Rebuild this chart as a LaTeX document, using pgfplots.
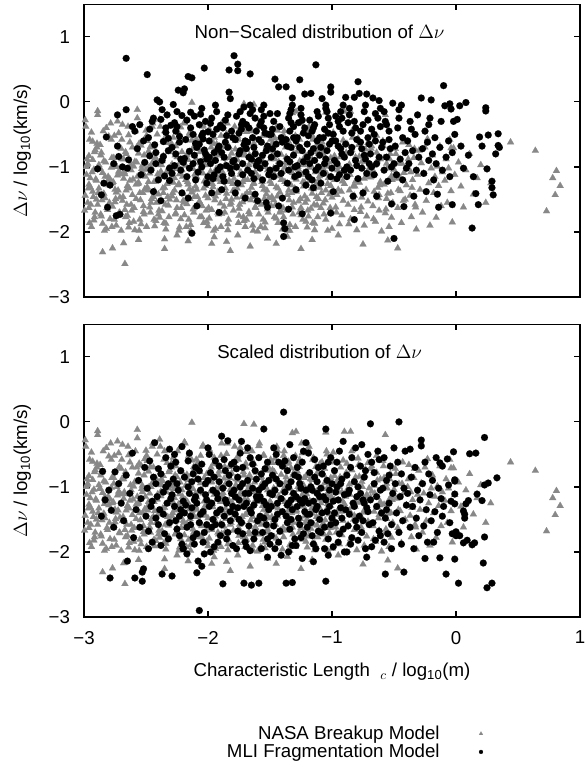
\documentclass[border=0pt]{standalone}
\usepackage{fontspec}
\setmainfont{Liberation Sans}
\usepackage{pgfplots}
\usepackage{pgfplotstable}
\pgfplotsset{compat=1.18}
\definecolor{nasagray}{RGB}{136,136,136}

\pgfplotstableread{
x y
-2.99 -0.28
-2.98 -1.12
-2.97 -1.55
-2.96 -0.83
-2.95 -1.31
-2.94 -1.92
-2.93 -0.61
-2.92 -1.04
-2.91 -1.70
-2.90 -1.21
-2.99 -1.44
-2.97 -0.95
-2.96 -1.63
-2.94 -0.47
-2.93 -1.38
-2.92 -1.82
-2.91 -0.74
-2.95 -1.17
-2.98 -1.00
-2.90 -1.50
-2.96 -1.27
-2.93 -0.89
-2.89 -0.14
-2.89 -0.20
-2.88 -1.33
-2.87 -0.66
-2.86 -1.76
-2.85 -1.09
-2.84 -0.91
-2.83 -1.48
-2.82 -1.95
-2.81 -1.22
-2.80 -0.53
-2.89 -1.58
-2.87 -1.02
-2.86 -0.78
-2.84 -1.41
-2.83 -1.15
-2.82 -0.40
-2.81 -1.66
-2.85 -1.87
-2.88 -0.97
-2.80 -1.28
-2.85 -2.31
-2.79 -1.19
-2.78 -0.58
-2.77 -1.61
-2.76 -0.86
-2.75 -1.35
-2.74 -1.90
-2.73 -0.30
-2.72 -1.07
-2.71 -1.47
-2.70 -0.72
-2.79 -1.80
-2.77 -1.25
-2.76 -0.95
-2.75 -1.54
-2.73 -1.13
-2.72 -0.48
-2.71 -1.71
-2.78 -1.01
-2.74 -1.39
-2.70 -1.98
-2.77 -2.25
-2.67 -2.49
-2.69 -0.35
-2.68 -1.18
-2.67 -1.66
-2.66 -0.80
-2.65 -1.29
-2.64 -1.93
-2.63 -0.62
-2.62 -1.05
-2.61 -1.43
-2.60 -0.99
-2.69 -1.52
-2.68 -0.88
-2.66 -1.36
-2.65 -1.75
-2.64 -0.51
-2.63 -1.21
-2.62 -1.58
-2.61 -0.70
-2.67 -1.11
-2.60 -1.84
-2.68 -2.17
-2.57 -0.12
-2.59 -0.92
-2.58 -1.49
-2.57 -0.25
-2.56 -1.24
-2.55 -1.81
-2.54 -0.67
-2.53 -1.08
-2.52 -1.60
-2.51 -1.34
-2.50 -0.44
-2.59 -1.97
-2.57 -1.15
-2.56 -0.79
-2.55 -1.40
-2.53 -0.98
-2.52 -1.69
-2.51 -0.57
-2.58 -1.27
-2.54 -1.88
-2.50 -1.04
-2.56 -2.12
-2.49 -1.31
-2.48 -0.76
-2.47 -1.62
-2.46 -1.00
-2.45 -0.38
-2.44 -1.46
-2.43 -1.91
-2.42 -0.87
-2.41 -1.19
-2.40 -1.73
-2.49 -0.60
-2.47 -1.10
-2.46 -1.55
-2.45 -0.94
-2.43 -1.37
-2.42 -1.83
-2.41 -0.50
-2.48 -1.23
-2.44 -0.70
-2.40 -1.42
-2.39 -0.27
-2.38 -1.14
-2.37 -1.68
-2.36 -0.83
-2.35 -1.32
-2.34 -1.96
-2.33 -0.63
-2.32 -1.02
-2.31 -1.50
-2.30 -1.21
-2.39 -1.78
-2.37 -0.91
-2.36 -1.40
-2.35 -0.45
-2.33 -1.26
-2.32 -1.59
-2.31 -0.74
-2.38 -1.07
-2.34 -1.87
-2.30 -0.99
-2.35 -2.11
-2.35 -2.26
-2.29 -1.45
-2.28 -0.55
-2.27 -1.17
-2.26 -1.71
-2.25 -0.85
-2.24 -1.28
-2.23 -1.93
-2.22 -0.39
-2.21 -1.05
-2.20 -1.52
-2.29 -0.96
-2.27 -1.36
-2.26 -0.68
-2.25 -1.63
-2.23 -1.11
-2.22 -1.80
-2.21 -0.77
-2.28 -1.24
-2.24 -1.00
-2.20 -1.41
-2.25 -2.05
-2.19 -0.31
-2.18 -1.20
-2.17 -1.57
-2.16 -0.89
-2.15 -1.34
-2.14 -1.89
-2.13 -0.59
-2.12 -1.03
-2.11 -1.46
-2.10 -1.13
-2.19 -1.74
-2.17 -0.81
-2.16 -1.27
-2.15 -0.48
-2.13 -1.39
-2.12 -1.65
-2.11 -0.72
-2.18 -0.98
-2.14 -1.98
-2.10 -1.30
-2.16 -2.14
-2.13 -0.01
-2.09 -1.16
-2.08 -0.62
-2.07 -1.53
-2.06 -0.94
-2.05 -1.77
-2.04 -0.36
-2.03 -1.22
-2.02 -1.44
-2.01 -0.80
-2.00 -1.91
-2.09 -1.35
-2.07 -1.06
-2.06 -0.52
-2.05 -1.60
-2.03 -0.86
-2.02 -1.29
-2.01 -1.84
-2.08 -0.71
-2.04 -1.10
-2.00 -1.48
-1.97 -2.18
-1.99 -0.42
-1.98 -1.25
-1.97 -1.66
-1.96 -0.84
-1.95 -1.12
-1.94 -1.95
-1.93 -0.65
-1.92 -1.38
-1.91 -1.01
-1.90 -1.56
-1.99 -1.79
-1.97 -0.92
-1.96 -1.31
-1.95 -0.55
-1.93 -1.19
-1.92 -1.70
-1.91 -0.76
-1.98 -1.07
-1.94 -1.45
-1.90 -1.23
-1.95 -2.08
-1.89 -0.33
-1.88 -1.14
-1.87 -1.61
-1.86 -0.96
-1.85 -1.41
-1.84 -1.88
-1.83 -0.69
-1.82 -1.04
-1.81 -1.50
-1.80 -1.26
-1.89 -1.72
-1.87 -0.87
-1.86 -1.33
-1.85 -0.49
-1.83 -1.21
-1.82 -1.58
-1.81 -0.79
-1.88 -1.09
-1.84 -1.97
-1.80 -1.37
-1.85 -2.15
-1.82 -2.29
-1.79 -1.18
-1.78 -0.60
-1.77 -1.47
-1.76 -0.90
-1.75 -1.75
-1.74 -0.40
-1.73 -1.28
-1.72 -1.54
-1.71 -0.82
-1.70 -1.92
-1.79 -1.36
-1.77 -1.02
-1.76 -0.53
-1.75 -1.64
-1.73 -0.95
-1.72 -1.23
-1.71 -1.83
-1.78 -0.73
-1.74 -1.12
-1.70 -1.43
-1.76 -2.05
-1.71 -0.03
-1.63 -0.04
-1.69 -0.46
-1.68 -1.20
-1.67 -1.69
-1.66 -0.86
-1.65 -1.32
-1.64 -1.90
-1.63 -0.64
-1.62 -1.08
-1.61 -1.52
-1.60 -1.15
-1.69 -1.81
-1.67 -0.97
-1.66 -1.40
-1.65 -0.57
-1.63 -1.25
-1.62 -1.62
-1.61 -0.78
-1.68 -1.04
-1.64 -1.46
-1.60 -1.99
-1.66 -2.22
-1.59 -0.37
-1.58 -1.17
-1.57 -1.58
-1.56 -0.93
-1.55 -1.35
-1.54 -1.85
-1.53 -0.68
-1.52 -1.05
-1.51 -1.48
-1.50 -1.22
-1.59 -1.73
-1.57 -0.84
-1.56 -1.29
-1.55 -0.51
-1.53 -1.42
-1.52 -1.65
-1.51 -0.75
-1.58 -1.00
-1.54 -1.94
-1.50 -1.10
-1.52 -2.10
-1.49 -1.26
-1.48 -0.63
-1.47 -1.51
-1.46 -0.88
-1.45 -1.79
-1.44 -0.44
-1.43 -1.14
-1.42 -1.39
-1.41 -0.81
-1.40 -1.96
-1.49 -1.60
-1.47 -1.02
-1.46 -0.56
-1.45 -1.31
-1.43 -0.92
-1.42 -1.70
-1.41 -1.20
-1.48 -0.74
-1.44 -1.45
-1.40 -1.07
-1.45 -2.18
-1.39 -0.52
-1.38 -1.23
-1.37 -1.67
-1.36 -0.95
-1.35 -1.36
-1.34 -1.89
-1.33 -0.71
-1.32 -1.09
-1.31 -1.55
-1.30 -1.16
-1.39 -1.77
-1.37 -0.85
-1.36 -1.43
-1.35 -0.61
-1.33 -1.28
-1.32 -1.62
-1.31 -0.79
-1.38 -1.01
-1.34 -1.98
-1.30 -1.33
-1.36 -2.07
-1.32 -0.17
-1.29 -0.15
-1.29 -1.19
-1.28 -0.66
-1.27 -1.53
-1.26 -0.91
-1.25 -1.74
-1.24 -0.48
-1.23 -1.30
-1.22 -1.45
-1.21 -0.83
-1.20 -1.93
-1.29 -1.38
-1.27 -1.04
-1.26 -0.58
-1.25 -1.63
-1.23 -0.97
-1.22 -1.24
-1.21 -1.84
-1.28 -0.76
-1.24 -1.12
-1.20 -1.50
-1.25 -2.26
-1.19 -0.43
-1.18 -1.21
-1.17 -1.64
-1.16 -0.89
-1.15 -1.34
-1.14 -1.87
-1.13 -0.69
-1.12 -1.06
-1.11 -1.49
-1.10 -1.14
-1.19 -1.76
-1.17 -0.98
-1.16 -1.41
-1.15 -0.55
-1.13 -1.27
-1.12 -1.59
-1.11 -0.80
-1.18 -1.01
-1.14 -1.97
-1.10 -1.32
-1.16 -2.12
-1.05 -0.16
-1.09 -1.25
-1.08 -0.62
-1.07 -1.56
-1.06 -0.94
-1.05 -1.81
-1.04 -0.50
-1.03 -1.17
-1.02 -1.42
-1.01 -0.86
-1.00 -1.95
-1.09 -1.63
-1.07 -1.03
-1.06 -0.72
-1.05 -1.36
-1.03 -0.99
-1.02 -1.71
-1.01 -1.29
-1.08 -0.78
-1.04 -1.11
-1.00 -1.47
-0.99 -0.47
-0.98 -1.20
-0.97 -1.62
-0.96 -0.91
-0.95 -1.35
-0.94 -1.88
-0.93 -0.70
-0.92 -1.08
-0.91 -1.52
-0.90 -1.26
-0.98 -0.83
-0.96 -1.43
-0.94 -1.00
-0.92 -1.74
-0.91 -0.59
-0.95 -2.05
-0.90 -0.15
-0.85 -0.15
-0.89 -1.15
-0.88 -0.64
-0.87 -1.58
-0.86 -0.96
-0.85 -1.80
-0.84 -0.45
-0.83 -1.30
-0.82 -1.44
-0.81 -0.85
-0.80 -1.97
-0.88 -1.05
-0.86 -1.36
-0.84 -0.74
-0.82 -1.66
-0.81 -1.22
-0.79 -0.56
-0.78 -1.24
-0.77 -1.69
-0.76 -0.92
-0.75 -1.39
-0.74 -1.90
-0.73 -0.73
-0.72 -1.12
-0.71 -1.53
-0.70 -1.02
-0.78 -0.84
-0.76 -1.47
-0.74 -1.18
-0.72 -1.76
-0.71 -0.63
-0.75 -2.19
-0.69 -1.16
-0.68 -0.68
-0.67 -1.60
-0.66 -0.98
-0.65 -1.84
-0.64 -0.52
-0.63 -1.32
-0.62 -1.43
-0.61 -0.88
-0.60 -1.99
-0.68 -1.07
-0.66 -1.38
-0.64 -0.78
-0.62 -1.67
-0.61 -1.23
-0.59 -0.60
-0.58 -1.27
-0.57 -1.71
-0.57 -0.20
-0.56 -0.95
-0.55 -1.41
-0.54 -1.92
-0.53 -0.80
-0.52 -1.14
-0.51 -1.55
-0.50 -1.04
-0.58 -0.86
-0.56 -1.49
-0.54 -1.20
-0.52 -1.78
-0.55 -2.13
-0.49 -0.72
-0.48 -1.18
-0.47 -1.63
-0.46 -0.95
-0.45 -1.37
-0.44 -1.86
-0.43 -0.62
-0.42 -1.09
-0.41 -1.50
-0.40 -1.28
-0.47 -2.25
-0.39 -1.00
-0.38 -0.66
-0.37 -1.44
-0.36 -1.77
-0.35 -1.20
-0.34 -0.86
-0.33 -1.58
-0.32 -1.96
-0.31 -1.12
-0.30 -0.75
-0.29 -1.35
-0.28 -0.94
-0.27 -1.70
-0.26 -1.10
-0.25 -0.70
-0.24 -1.52
-0.23 -0.57
-0.22 -1.25
-0.21 -1.90
-0.20 -1.02
-0.19 -0.82
-0.18 -1.40
-0.17 -1.15
-0.16 -1.78
-0.15 -0.99
-0.14 -1.29
-0.13 -0.68
-0.12 -1.60
-0.11 -1.08
-0.09 -1.21
-0.08 -0.88
-0.07 -1.55
-0.06 -1.02
-0.05 -0.58
-0.04 -1.37
-0.03 -1.85
-0.02 -0.71
-0.01 -1.12
-0.04 -0.71
0.02 -0.93
0.04 -1.30
0.06 -1.62
0.08 -1.05
0.11 -0.80
0.14 -1.42
0.17 -1.17
0.20 -0.97
0.24 -1.55
0.28 -1.25
0.44 -0.62
0.64 -0.75
0.81 -1.06
0.78 -1.17
0.84 -1.29
0.80 -1.43
0.73 -1.68
}\nasa

\pgfplotstableread{
x y
-2.985 -0.38
-2.955 -0.58
-2.915 -0.77
-2.975 -0.97
-2.935 -1.08
-2.905 -1.19
-2.965 -1.33
-2.925 -1.46
-2.945 -1.58
-2.995 -1.67
-2.915 -1.77
-2.955 -1.86
-2.975 -0.88
-2.845 -0.45
-2.895 -0.64
-2.865 -0.82
-2.825 -0.93
-2.875 -1.03
-2.805 -1.15
-2.835 -1.26
-2.885 -1.40
-2.855 -1.51
-2.815 -1.63
-2.865 -1.73
-2.835 -1.98
-2.895 -0.70
-2.785 -0.33
-2.755 -0.52
-2.715 -0.69
-2.775 -0.86
-2.735 -1.00
-2.705 -1.11
-2.765 -1.23
-2.725 -1.36
-2.745 -1.49
-2.795 -1.55
-2.715 -1.70
-2.755 -1.81
-2.775 -1.92
-2.645 -0.38
-2.695 -0.58
-2.665 -0.77
-2.625 -0.97
-2.675 -1.08
-2.605 -1.19
-2.635 -1.33
-2.685 -1.46
-2.655 -1.58
-2.615 -1.67
-2.665 -1.77
-2.635 -1.86
-2.695 -0.88
-2.585 -0.45
-2.555 -0.64
-2.515 -0.82
-2.575 -0.93
-2.535 -1.03
-2.505 -1.15
-2.565 -1.26
-2.525 -1.40
-2.545 -1.51
-2.595 -1.63
-2.515 -1.73
-2.555 -1.98
-2.575 -0.70
-2.445 -0.33
-2.495 -0.52
-2.465 -0.69
-2.425 -0.86
-2.475 -1.00
-2.405 -1.11
-2.435 -1.23
-2.485 -1.36
-2.455 -1.49
-2.415 -1.55
-2.465 -1.70
-2.435 -1.81
-2.495 -1.92
-2.385 -0.38
-2.355 -0.58
-2.315 -0.77
-2.375 -0.97
-2.335 -1.08
-2.305 -1.19
-2.365 -1.33
-2.325 -1.46
-2.345 -1.58
-2.395 -1.67
-2.315 -1.77
-2.355 -1.86
-2.375 -0.88
-2.245 -0.45
-2.295 -0.64
-2.265 -0.82
-2.225 -0.93
-2.275 -1.03
-2.205 -1.15
-2.235 -1.26
-2.285 -1.40
-2.255 -1.51
-2.215 -1.63
-2.265 -1.73
-2.235 -1.98
-2.295 -0.70
-2.185 -0.33
-2.155 -0.52
-2.115 -0.69
-2.175 -0.86
-2.135 -1.00
-2.105 -1.11
-2.165 -1.23
-2.125 -1.36
-2.145 -1.49
-2.195 -1.55
-2.115 -1.70
-2.155 -1.81
-2.175 -1.92
-2.045 -0.38
-2.095 -0.58
-2.065 -0.77
-2.025 -0.97
-2.075 -1.08
-2.005 -1.19
-2.035 -1.33
-2.085 -1.46
-2.055 -1.58
-2.015 -1.67
-2.065 -1.77
-2.035 -1.86
-2.095 -0.88
-1.985 -0.45
-1.955 -0.64
-1.915 -0.82
-1.975 -0.93
-1.935 -1.03
-1.905 -1.15
-1.965 -1.26
-1.925 -1.40
-1.945 -1.51
-1.995 -1.63
-1.915 -1.73
-1.955 -1.98
-1.975 -0.70
-1.845 -0.33
-1.895 -0.52
-1.865 -0.69
-1.825 -0.86
-1.875 -1.00
-1.805 -1.11
-1.835 -1.23
-1.885 -1.36
-1.855 -1.49
-1.815 -1.55
-1.865 -1.70
-1.835 -1.81
-1.895 -1.92
-1.785 -0.38
-1.755 -0.58
-1.715 -0.77
-1.775 -0.97
-1.735 -1.08
-1.705 -1.19
-1.765 -1.33
-1.725 -1.46
-1.745 -1.58
-1.795 -1.67
-1.715 -1.77
-1.755 -1.86
-1.775 -0.88
-1.645 -0.45
-1.695 -0.64
-1.665 -0.82
-1.625 -0.93
-1.675 -1.03
-1.605 -1.15
-1.635 -1.26
-1.685 -1.40
-1.655 -1.51
-1.615 -1.63
-1.665 -1.73
-1.635 -1.98
-1.695 -0.70
-1.585 -0.33
-1.555 -0.52
-1.515 -0.69
-1.575 -0.86
-1.535 -1.00
-1.505 -1.11
-1.565 -1.23
-1.525 -1.36
-1.545 -1.49
-1.595 -1.55
-1.515 -1.70
-1.555 -1.81
-1.575 -1.92
-1.445 -0.38
-1.495 -0.58
-1.465 -0.77
-1.425 -0.97
-1.475 -1.08
-1.405 -1.19
-1.435 -1.33
-1.485 -1.46
-1.455 -1.58
-1.415 -1.67
-1.465 -1.77
-1.435 -1.86
-1.495 -0.88
-1.385 -0.45
-1.355 -0.64
-1.315 -0.82
-1.375 -0.93
-1.335 -1.03
-1.305 -1.15
-1.365 -1.26
-1.325 -1.40
-1.345 -1.51
-1.395 -1.63
-1.315 -1.73
-1.355 -1.98
-1.375 -0.70
-1.245 -0.33
-1.295 -0.52
-1.265 -0.69
-1.225 -0.86
-1.275 -1.00
-1.205 -1.11
-1.235 -1.23
-1.285 -1.36
-1.255 -1.49
-1.215 -1.55
-1.265 -1.70
-1.235 -1.81
-1.295 -1.92
-1.185 -0.38
-1.155 -0.58
-1.115 -0.77
-1.175 -0.97
-1.135 -1.08
-1.105 -1.19
-1.165 -1.33
-1.125 -1.46
-1.145 -1.58
-1.195 -1.67
-1.115 -1.77
-1.155 -1.86
-1.175 -0.88
-1.045 -0.45
-1.095 -0.64
-1.065 -0.82
-1.025 -0.93
-1.075 -1.03
-1.005 -1.15
-1.035 -1.26
-1.085 -1.40
-1.055 -1.51
-1.015 -1.63
-1.065 -1.73
-1.035 -1.98
-1.095 -0.70
-0.985 -0.62
-0.955 -1.05
-0.925 -1.38
-0.965 -1.70
-0.935 -0.85
-0.915 -1.22
-0.885 -0.78
-0.855 -1.12
-0.825 -1.50
-0.865 -1.88
-0.835 -0.55
-0.815 -1.30
-0.785 -0.66
-0.755 -1.00
-0.725 -1.35
-0.765 -1.62
-0.735 -0.82
-0.715 -1.15
-0.685 -0.72
-0.655 -1.10
-0.625 -1.48
-0.665 -1.80
-0.635 -0.90
-0.615 -1.28
-0.585 -0.68
-0.555 -1.02
-0.525 -1.40
-0.565 -1.65
-0.535 -0.88
-0.515 -1.20
-0.485 -0.80
-0.455 -1.15
-0.425 -1.52
-0.465 -1.35
-0.435 -0.95
-0.385 -0.88
-0.355 -1.32
-0.325 -1.62
-0.365 -1.08
-0.335 -0.72
}\nasab

\pgfplotstableread{
x y
-2.82 -0.54
-2.73 -0.20
-2.66 -0.12
-2.89 -1.03
-2.84 -1.25
-2.86 -1.43
-2.81 -1.62
-2.74 -1.75
-2.71 -1.73
-2.79 -1.28
-2.73 -0.68
-2.72 -0.84
-2.76 -0.95
-2.69 -1.00
-2.65 -1.02
-2.64 -0.89
-2.61 -0.38
-2.59 -0.45
-2.66 0.67
-2.55 -0.35
-2.57 -0.72
-2.52 -0.60
-2.54 -1.12
-2.51 -0.93
-2.49 0.42
-2.48 -0.55
-2.47 -0.83
-2.46 -1.05
-2.45 -0.30
-2.44 -1.38
-2.43 -0.66
-2.42 -0.95
-2.41 0.03
-2.40 -1.20
-2.47 -0.42
-2.44 -0.25
-2.42 -0.78
-2.39 0.00
-2.38 -0.27
-2.37 -0.90
-2.36 -0.61
-2.35 -1.14
-2.34 -0.47
-2.33 -0.20
-2.32 -0.75
-2.31 -1.02
-2.30 -0.36
-2.38 -1.52
-2.36 -0.84
-2.34 -0.40
-2.32 -0.56
-2.31 -1.21
-2.37 -0.12
-2.29 -0.70
-2.28 -0.04
-2.27 -0.98
-2.26 -0.45
-2.25 -0.15
-2.24 0.18
-2.23 -0.62
-2.22 -0.88
-2.21 -1.40
-2.20 0.14
-2.29 -1.10
-2.27 -0.32
-2.26 -0.80
-2.25 -0.38
-2.23 -0.53
-2.22 -1.05
-2.21 -0.21
-2.20 -0.93
-2.19 0.20
-2.18 -0.58
-2.17 -1.15
-2.16 0.39
-2.15 -0.76
-2.14 -0.40
-2.13 0.37
-2.12 -0.95
-2.11 -0.22
-2.10 -0.64
-2.19 -0.87
-2.17 -0.28
-2.16 -1.48
-2.15 -1.02
-2.13 -2.02
-2.12 -0.50
-2.11 -0.82
-2.10 -1.20
-2.14 -0.16
-2.09 -0.70
-2.08 -1.08
-2.07 -0.35
-2.06 -0.92
-2.05 -0.10
-2.04 -0.57
-2.03 0.52
-2.02 -0.80
-2.01 -1.25
-2.00 -0.46
-2.09 -1.60
-2.07 -0.65
-2.06 -0.19
-2.05 -1.00
-2.04 -0.48
-2.03 -0.74
-2.02 -0.30
-2.01 -0.88
-2.00 -1.15
-2.05 -0.52
-1.99 -0.60
-1.98 -0.95
-1.97 -0.25
-1.96 -1.18
-1.95 -0.78
-1.94 -0.05
-1.93 -0.42
-1.92 -1.05
-1.91 -0.68
-1.90 -0.36
-1.99 -0.85
-1.97 -1.40
-1.96 -0.50
-1.95 -1.12
-1.93 -0.15
-1.92 -0.72
-1.91 -1.70
-1.98 -0.33
-1.94 -0.90
-1.90 -1.00
-1.89 -0.78
-1.88 -0.40
-1.87 -1.22
-1.86 -0.62
-1.85 -0.98
-1.84 -0.20
-1.83 0.49
-1.83 0.15
-1.82 0.05
-1.81 -1.10
-1.80 -0.55
-1.89 -1.35
-1.87 -0.85
-1.86 -0.28
-1.85 -0.52
-1.84 -0.70
-1.82 -1.02
-1.81 -0.45
-1.80 -0.92
-1.88 -1.15
-1.79 0.71
-1.78 -0.58
-1.77 -1.00
-1.76 0.58
-1.76 0.48
-1.75 -0.80
-1.74 -0.15
-1.73 -0.35
-1.72 -1.12
-1.71 -0.66
-1.70 -1.48
-1.79 -0.90
-1.77 -0.22
-1.76 -1.25
-1.75 -0.48
-1.74 -0.75
-1.73 -0.42
-1.72 -0.95
-1.71 -0.08
-1.70 -0.60
-1.78 -1.40
-1.72 -0.30
-1.69 -0.72
-1.68 -1.05
-1.67 -0.40
-1.66 0.43
-1.66 -0.18
-1.65 -0.88
-1.64 -0.55
-1.63 -1.18
-1.62 -0.25
-1.61 -0.98
-1.60 -1.52
-1.69 -0.35
-1.68 -0.62
-1.67 -0.85
-1.65 -1.10
-1.64 -0.12
-1.63 -0.70
-1.62 -1.42
-1.61 -0.45
-1.60 -0.92
-1.66 -0.05
-1.62 -0.80
-1.59 -0.58
-1.58 -1.02
-1.57 -0.30
-1.56 -0.82
-1.55 -0.22
-1.54 -0.48
-1.53 -1.55
-1.52 -0.68
-1.51 -1.12
-1.50 -0.18
-1.59 -0.90
-1.58 -0.36
-1.57 -0.62
-1.56 -1.20
-1.55 -0.40
-1.54 -0.95
-1.53 -0.75
-1.52 -1.62
-1.51 -0.50
-1.50 -1.05
-1.55 -0.05
-1.57 -0.12
-1.49 -0.85
-1.48 -0.42
-1.47 -1.15
-1.46 0.35
-1.45 -0.65
-1.44 -0.18
-1.43 0.23
-1.42 -0.95
-1.41 -0.55
-1.40 -1.48
-1.49 -0.50
-1.48 -0.72
-1.47 -0.30
-1.45 -1.02
-1.44 -0.80
-1.43 -1.60
-1.42 -0.38
-1.41 -1.10
-1.40 -0.62
-1.39 -1.86
-1.39 -2.07
-1.38 -1.95
-1.37 0.23
-1.36 -0.68
-1.35 -1.05
-1.34 -0.45
-1.33 -0.32
-1.32 0.06
-1.31 -0.82
-1.30 -1.15
-1.37 -0.58
-1.36 -1.25
-1.35 -0.25
-1.34 -0.92
-1.33 -0.70
-1.32 -0.05
-1.31 -0.38
-1.30 -1.00
-1.35 -1.65
-1.33 -0.12
-1.31 -0.55
-1.36 -0.88
-1.34 -0.18
-1.29 -0.60
-1.28 -0.98
-1.27 -0.32
-1.26 0.34
-1.25 -0.10
-1.24 -0.75
-1.23 -0.48
-1.22 0.12
-1.21 -1.08
-1.20 -0.85
-1.29 -1.35
-1.28 -0.55
-1.27 -1.12
-1.26 -0.70
-1.25 -0.20
-1.24 -0.28
-1.23 -0.92
-1.22 -0.40
-1.21 -1.28
-1.20 -0.65
-1.24 -1.72
-1.19 -0.52
-1.18 -0.95
-1.17 0.13
-1.16 -1.20
-1.15 -0.72
-1.14 -0.35
-1.13 0.57
-1.13 -1.05
-1.12 -0.60
-1.11 -0.22
-1.10 -0.82
-1.19 -1.15
-1.18 -0.28
-1.17 -0.78
-1.16 -0.45
-1.15 -1.32
-1.14 -0.90
-1.12 -0.15
-1.11 -1.00
-1.10 -0.55
-1.15 -0.40
-1.09 -0.70
-1.08 0.05
-1.07 -1.10
-1.06 -0.42
-1.05 -0.88
-1.04 -0.15
-1.03 -0.25
-1.02 -0.65
-1.01 0.15
-1.00 -1.02
-1.09 -1.25
-1.07 -0.55
-1.06 -0.95
-1.05 -0.10
-1.04 -0.75
-1.03 -0.48
-1.02 -0.35
-1.01 -1.15
-1.00 -0.60
-1.01 0.23
-1.01 -1.71
-1.05 -0.05
-0.99 -0.50
-0.98 -0.90
-0.97 -0.22
-0.96 -1.18
-0.95 -0.68
-0.94 -0.38
-0.93 -0.15
-0.92 -0.80
-0.91 -0.05
-0.90 -1.05
-0.99 -1.38
-0.97 -0.60
-0.96 -0.95
-0.95 -0.30
-0.94 -1.12
-0.93 -0.72
-0.92 -0.25
-0.91 -0.45
-0.90 -0.85
-0.89 0.07
-0.89 -0.65
-0.88 -1.00
-0.87 -0.32
-0.86 -0.10
-0.85 -0.78
-0.84 -0.48
-0.83 -1.45
-0.82 0.07
-0.81 -0.90
-0.80 -0.58
-0.88 -1.15
-0.86 -0.20
-0.85 -1.05
-0.84 -0.70
-0.82 -0.30
-0.81 -0.40
-0.80 -0.98
-0.82 -1.81
-0.79 0.31
-0.78 0.13
-0.77 -0.62
-0.76 -1.02
-0.75 -0.35
-0.74 -0.82
-0.73 -0.05
-0.72 0.12
-0.71 -0.55
-0.70 -0.95
-0.79 -1.18
-0.77 -0.45
-0.76 -0.72
-0.75 -1.40
-0.74 -0.15
-0.73 -0.88
-0.72 -1.10
-0.71 -0.28
-0.70 -0.65
-0.69 -0.80
-0.68 -0.42
-0.67 0.06
-0.66 -1.12
-0.65 -0.60
-0.64 -0.95
-0.63 -0.25
-0.62 0.02
-0.61 -0.10
-0.60 -0.70
-0.68 -1.00
-0.66 -0.50
-0.65 -0.18
-0.64 -1.45
-0.62 -0.85
-0.61 -0.38
-0.59 -0.62
-0.58 -1.05
-0.57 -0.30
-0.56 -0.85
-0.55 -1.22
-0.54 -0.45
-0.53 -0.72
-0.52 -1.57
-0.51 -0.02
-0.50 -0.95
-0.58 -0.15
-0.56 -0.35
-0.54 -0.58
-0.52 -1.00
-0.50 -2.10
-0.49 -0.68
-0.48 -1.12
-0.47 -0.40
-0.46 -0.12
-0.45 -0.88
-0.44 -0.05
-0.43 -0.55
-0.42 -1.61
-0.41 -0.78
-0.40 -1.02
-0.46 -0.25
-0.43 -1.20
-0.39 -0.60
-0.38 -0.95
-0.37 -0.30
-0.36 -0.42
-0.35 -0.75
-0.34 -1.45
-0.33 -0.50
-0.32 -1.05
-0.31 -0.20
-0.30 -0.85
-0.28 0.06
-0.27 -0.72
-0.26 -1.10
-0.25 -0.45
-0.24 -1.38
-0.23 -0.62
-0.22 -0.90
-0.21 -0.25
-0.20 0.03
-0.22 -0.35
-0.19 -0.80
-0.18 -1.20
-0.17 -0.55
-0.16 -0.95
-0.15 -1.42
-0.13 -0.70
-0.12 -0.30
-0.11 -1.05
-0.10 0.25
-0.14 -1.62
-0.09 -0.06
-0.08 -0.85
-0.06 -0.60
-0.05 -1.15
-0.04 -0.11
-0.03 -0.78
-0.02 -0.30
-0.01 -0.50
-0.05 -0.03
-0.03 -1.58
0.01 -0.27
0.03 -0.06
0.04 -0.68
0.06 -1.02
0.08 -0.01
0.10 -0.82
0.13 -1.94
0.14 -1.15
0.16 -1.41
0.18 -1.58
0.19 -0.54
0.21 -0.68
0.24 -0.09
0.24 -0.14
0.25 -1.03
0.26 -0.51
0.29 -1.22
0.29 -1.32
0.30 -1.43
0.32 -0.80
0.34 -0.49
0.34 -0.67
0.35 -0.70
}\mlitop

\pgfplotstableread{
x y
-2.85 -0.76
-2.75 -0.77
-2.83 -1.20
-2.78 -1.36
-2.86 -1.45
-2.79 -2.40
-2.80 -1.05
-2.76 -1.62
-2.72 -0.95
-2.70 -1.25
-2.68 -1.52
-2.65 -2.14
-2.66 -0.82
-2.63 -1.10
-2.61 -0.48
-2.60 -1.78
-2.59 -2.40
-2.58 -1.35
-2.56 -0.90
-2.55 -1.62
-2.53 -2.45
-2.53 -2.31
-2.52 -2.26
-2.54 -1.18
-2.51 -0.70
-2.50 -1.45
-2.49 -1.02
-2.48 -1.68
-2.47 -0.60
-2.46 -1.30
-2.45 -1.85
-2.44 -0.85
-2.43 -0.32
-2.42 -1.48
-2.41 -1.15
-2.40 -0.72
-2.48 -1.95
-2.45 -1.22
-2.42 -0.95
-2.40 -1.58
-2.39 -1.35
-2.38 -0.80
-2.37 -2.34
-2.36 -1.08
-2.35 -1.72
-2.34 -0.55
-2.33 -1.25
-2.32 -0.95
-2.31 -1.55
-2.30 -0.68
-2.38 -1.90
-2.36 -1.42
-2.34 -1.00
-2.32 -1.80
-2.31 -0.42
-2.30 -1.18
-2.29 -2.37
-2.28 -0.88
-2.27 -1.30
-2.26 -0.62
-2.25 -1.65
-2.24 -1.05
-2.23 -1.45
-2.22 -0.75
-2.21 -1.88
-2.20 -1.22
-2.29 -1.12
-2.27 -0.50
-2.26 -1.52
-2.25 -0.95
-2.23 -1.75
-2.22 -1.35
-2.21 -0.38
-2.20 -1.95
-2.19 -0.85
-2.18 -1.28
-2.17 -1.62
-2.16 -0.60
-2.15 -1.10
-2.14 -1.45
-2.13 -0.92
-2.12 -1.78
-2.11 -1.20
-2.10 -0.70
-2.20 -1.95
-2.17 -2.03
-2.19 -1.40
-2.16 -1.00
-2.15 -0.48
-2.14 -1.58
-2.13 -1.32
-2.12 -0.80
-2.11 -1.88
-2.10 -1.15
-2.09 -2.32
-2.08 -2.14
-2.07 -2.90
-2.05 -2.22
-2.03 -2.03
-2.09 -1.25
-2.08 -0.88
-2.07 -1.55
-2.06 -1.05
-2.05 -0.65
-2.04 -1.38
-2.03 -1.70
-2.02 -0.95
-2.01 -1.20
-2.00 -0.40
-2.09 -1.72
-2.07 -0.75
-2.06 -1.42
-2.04 -1.85
-2.02 -1.12
-2.01 -1.58
-2.00 -0.90
-1.99 -1.30
-1.98 -0.78
-1.97 -1.62
-1.96 -1.05
-1.95 -1.92
-1.94 -0.60
-1.93 -1.40
-1.92 -1.18
-1.91 -0.92
-1.90 -1.75
-1.99 -0.50
-1.97 -1.25
-1.96 -1.50
-1.95 -0.85
-1.93 -1.10
-1.92 -1.85
-1.91 -0.68
-1.90 -1.35
-1.98 -2.00
-1.94 -1.58
-1.89 -0.22
-1.88 -2.49
-1.88 -1.02
-1.87 -1.45
-1.86 -0.75
-1.85 -1.25
-1.84 -0.29
-1.84 -1.70
-1.83 -0.95
-1.82 -1.38
-1.81 -1.10
-1.80 -1.90
-1.89 -1.58
-1.87 -0.58
-1.86 -1.20
-1.85 -1.80
-1.83 -0.82
-1.82 -1.52
-1.81 -0.65
-1.80 -1.30
-1.79 -1.05
-1.78 -1.42
-1.77 -0.72
-1.76 -1.68
-1.75 -1.20
-1.74 -0.48
-1.73 -1.55
-1.72 -0.95
-1.71 -2.48
-1.71 -1.30
-1.70 -1.85
-1.79 -0.62
-1.78 -1.15
-1.77 -1.95
-1.76 -0.85
-1.75 -1.50
-1.74 -1.00
-1.73 -0.30
-1.72 -1.72
-1.70 -1.10
-1.76 -1.32
-1.72 -0.70
-1.69 -1.25
-1.68 -0.90
-1.67 -1.60
-1.66 -0.55
-1.65 -2.51
-1.65 -1.40
-1.64 -1.02
-1.63 -1.80
-1.62 -0.75
-1.61 -1.15
-1.60 -1.52
-1.69 -1.92
-1.68 -0.40
-1.67 -1.10
-1.66 -1.35
-1.64 -0.65
-1.63 -1.28
-1.62 -1.70
-1.61 -0.88
-1.60 -1.20
-1.59 -2.48
-1.66 -1.98
-1.59 -1.05
-1.58 -1.45
-1.57 -0.80
-1.56 -1.70
-1.55 -0.11
-1.55 -1.22
-1.54 -0.95
-1.53 -1.58
-1.52 -0.62
-1.51 -1.35
-1.50 -1.88
-1.59 -0.55
-1.58 -1.15
-1.57 -1.95
-1.56 -1.00
-1.55 -1.48
-1.54 -0.72
-1.53 -1.28
-1.52 -1.80
-1.51 -0.90
-1.50 -1.10
-1.52 -2.08
-1.49 -1.30
-1.48 -0.82
-1.47 -1.60
-1.46 -1.05
-1.45 -0.50
-1.44 -1.42
-1.43 -1.85
-1.42 -0.95
-1.41 -1.18
-1.40 -0.68
-1.49 -1.75
-1.48 -1.12
-1.47 -0.40
-1.46 -1.50
-1.45 -0.88
-1.44 -1.25
-1.43 -0.62
-1.42 -1.68
-1.41 -2.05
-1.40 -1.38
-1.39 0.15
-1.46 -1.95
-1.38 -1.08
-1.37 -2.48
-1.37 -1.45
-1.36 -0.75
-1.35 -1.25
-1.34 -1.65
-1.33 -0.92
-1.32 -2.47
-1.32 -1.35
-1.31 -0.55
-1.30 -1.80
-1.38 -0.60
-1.36 -1.55
-1.35 -1.00
-1.34 -0.35
-1.33 -1.20
-1.32 -1.90
-1.31 -1.10
-1.30 -0.82
-1.35 -2.00
-1.33 -1.50
-1.36 -1.28
-1.29 -1.15
-1.28 -0.70
-1.27 -1.48
-1.26 -0.95
-1.25 -1.78
-1.24 -1.25
-1.23 -0.45
-1.22 -1.38
-1.21 -1.05
-1.20 -1.62
-1.29 -1.90
-1.28 -1.30
-1.27 -0.85
-1.26 -1.58
-1.25 -1.02
-1.24 -0.62
-1.23 -1.72
-1.22 -1.18
-1.21 -0.32
-1.20 -1.42
-1.24 -2.10
-1.26 -1.20
-1.19 -1.25
-1.18 -0.78
-1.17 -1.55
-1.16 -1.05
-1.15 -1.88
-1.14 -0.58
-1.13 -1.35
-1.12 -0.92
-1.11 -1.68
-1.10 -1.15
-1.19 -0.48
-1.18 -1.42
-1.17 -1.00
-1.16 -1.75
-1.15 -1.22
-1.14 -0.85
-1.13 -1.95
-1.12 -1.30
-1.11 -0.70
-1.10 -1.50
-1.15 -2.15
-1.12 -1.10
-1.09 -1.02
-1.08 -1.40
-1.07 -0.68
-1.06 -1.62
-1.05 -0.11
-1.05 -2.45
-1.05 -1.20
-1.04 -0.90
-1.03 -1.80
-1.02 -1.30
-1.01 -0.55
-1.00 -1.48
-1.09 -1.70
-1.08 -0.80
-1.07 -1.15
-1.06 -1.95
-1.04 -1.38
-1.03 -0.62
-1.02 -1.05
-1.01 -1.58
-1.00 -0.95
-1.03 -2.05
-0.99 -1.22
-0.98 -0.75
-0.97 -1.55
-0.96 -1.00
-0.95 -1.85
-0.94 -0.45
-0.93 -1.32
-0.92 -0.88
-0.91 -1.65
-0.90 -1.12
-0.99 -1.92
-0.98 -1.40
-0.96 -0.62
-0.95 -1.20
-0.94 -1.72
-0.93 -0.95
-0.92 -1.48
-0.91 -0.30
-0.90 -2.00
-0.97 -1.08
-0.89 -1.35
-0.88 -0.82
-0.87 -1.60
-0.86 -1.05
-0.85 -1.88
-0.84 -0.55
-0.83 -1.25
-0.82 -0.92
-0.81 -1.52
-0.80 -1.15
-0.88 -2.00
-0.86 -1.42
-0.85 -0.70
-0.84 -1.78
-0.82 -1.30
-0.81 -0.40
-0.80 -1.62
-0.87 -1.10
-0.79 -1.00
-0.78 -1.45
-0.77 -0.68
-0.76 -1.70
-0.75 -1.20
-0.74 -0.85
-0.73 -1.95
-0.72 -1.32
-0.71 -0.50
-0.70 -1.58
-0.79 -1.82
-0.77 -1.10
-0.76 -0.35
-0.75 -1.52
-0.74 -1.25
-0.73 -0.75
-0.72 -2.08
-0.71 -1.38
-0.69 -0.03
-0.69 -1.20
-0.68 -0.62
-0.67 -1.55
-0.66 -0.95
-0.65 -1.82
-0.64 -1.30
-0.63 -0.45
-0.62 -1.68
-0.61 -1.05
-0.60 -1.40
-0.68 -1.92
-0.66 -0.78
-0.64 -1.15
-0.62 -0.58
-0.61 -1.75
-0.59 -1.02
-0.58 -0.55
-0.57 -1.48
-0.57 -2.34
-0.56 -0.90
-0.55 -1.72
-0.54 -1.25
-0.53 -0.68
-0.52 -1.58
-0.51 -1.10
-0.50 -0.40
-0.58 -1.85
-0.56 -1.35
-0.54 -0.82
-0.52 -1.95
-0.46 0.00
-0.49 -0.95
-0.48 -1.40
-0.47 -0.62
-0.46 -1.70
-0.45 -1.15
-0.44 -0.80
-0.43 -1.52
-0.42 -2.31
-0.42 -1.02
-0.41 -0.45
-0.40 -1.28
-0.44 -1.88
-0.39 -1.10
-0.37 -0.42
-0.37 -1.62
-0.36 -0.85
-0.35 -1.30
-0.34 -1.95
-0.33 -0.70
-0.32 -1.48
-0.31 -1.05
-0.30 -1.75
-0.28 -0.37
-0.28 -0.28
-0.29 -1.20
-0.27 -0.95
-0.26 -1.60
-0.25 -0.62
-0.24 -1.35
-0.23 -1.85
-0.22 -0.80
-0.21 -1.12
-0.20 -1.52
-0.25 -2.10
-0.19 -0.90
-0.17 -1.38
-0.16 -0.55
-0.15 -1.70
-0.13 -0.63
-0.13 -2.09
-0.12 -1.18
-0.11 -0.68
-0.11 -1.45
-0.14 -1.02
-0.18 -1.85
-0.10 -1.30
-0.08 -2.34
-0.07 -0.57
-0.06 -0.97
-0.05 -1.55
-0.04 -1.22
-0.02 -0.46
-0.01 -2.11
-0.01 -1.26
-0.01 -1.11
-0.01 -0.91
-0.01 -0.89
-0.03 -1.72
0.00 -1.69
0.00 -1.75
0.02 -2.48
0.03 -1.75
0.06 -1.37
0.06 -1.86
0.07 -1.42
0.07 -1.48
0.08 -1.26
0.09 -1.82
0.10 -1.21
0.11 -0.49
0.13 -1.89
0.15 -1.86
0.16 -0.48
0.17 -1.11
0.21 -1.21
0.22 -2.17
0.23 -0.24
0.23 -1.77
0.25 -2.55
0.26 -0.94
0.23 -0.97
0.29 -2.48
0.33 -0.86
}\mlibot

\newcommand{\chartfont}{\fontsize{14}{16}\selectfont}

\pgfplotsset{
  chart/.style={
    scale only axis, width=372pt, height=219.5pt,
    xmin=-3, xmax=1, ymin=-3, ymax=1.5,
    xtick={-3,-2,-1,0,1}, ytick={-3,-2,-1,0,1},
    yticklabels={−3,−2,−1,0,1},
    tick align=inside, major tick length=4.5pt,
    axis line style={line width=0.9pt},
    every tick/.style={black, line width=0.9pt},
    tick label style={font=\chartfont},
    yticklabel style={xshift=-7pt},
    xticklabel style={yshift=-7pt},
    ylabel={$\Delta\nu$ / log\textsubscript{10}(km/s)},
    ylabel style={at={(axis description cs:-0.1245,0.5)}, rotate=0, anchor=center, font=\chartfont},
  },
  nasastyle/.style={only marks, mark=triangle*, mark size=3pt, color=nasagray,
    mark options={fill=nasagray, draw=nasagray, line width=0.1pt}},
  mlistyle/.style={only marks, mark=*, mark size=2.6pt, color=black,
    mark options={fill=black, draw=black, line width=0.1pt}},
  nasalegend/.style={legend image code/.code={\path[draw=none, fill=none] (0pt,0pt) -- (30pt,0pt); \draw[nasagray, fill=nasagray, mark=triangle*, mark size=1.7pt] plot coordinates {(30pt,0pt)};}},
  mlilegend/.style={legend image code/.code={\path[draw=none, fill=none] (0pt,0pt) -- (30pt,0pt); \draw[black, fill=black, mark=*, mark size=1.5pt] plot coordinates {(30pt,0pt)};}},
}

\begin{document}
\begin{tikzpicture}
\path[use as bounding box] (0,0) rectangle (440.25pt,575.25pt);

\begin{axis}[chart, at={(63pt,352.5pt)}, anchor=south west, xticklabels={}]
\addplot[nasastyle] table[x=x,y=y] {\nasa};
\addplot[nasastyle] table[x=x,y=y] {\nasab};
\addplot[mlistyle] table[x=x,y=y] {\mlitop};
\node[font=\chartfont] at (axis cs:-1.1,1.07) {Non−Scaled distribution of $\Delta\nu$};
\end{axis}

\begin{axis}[chart, at={(63pt,112.5pt)}, anchor=south west,
  xticklabels={−3,−2,−1,0,1},
  xlabel={Characteristic Length\ \ $_{c}$ / log\textsubscript{10}(m)},
  xlabel style={at={(axis description cs:0.5,-0.188)}, anchor=center, font=\chartfont},
  legend style={at={(axis description cs:0.545,-0.43)}, anchor=center, draw=none, fill=none,
    font=\chartfont, row sep=0pt, nodes={inner sep=1pt}},
  legend cell align=right, legend plot pos=right]
\addplot[nasastyle, nasalegend] table[x=x,y=y] {\nasa};
\addlegendentry{NASA Breakup Model}
\addplot[nasastyle, forget plot] table[x=x,y=y] {\nasab};
\addplot[mlistyle, mlilegend] table[x=x,y=y] {\mlibot};
\addlegendentry{MLI Fragmentation Model}
\node[font=\chartfont] at (axis cs:-1.1,1.07) {Scaled distribution of $\Delta\nu$};
\end{axis}
\end{tikzpicture}
\end{document}
